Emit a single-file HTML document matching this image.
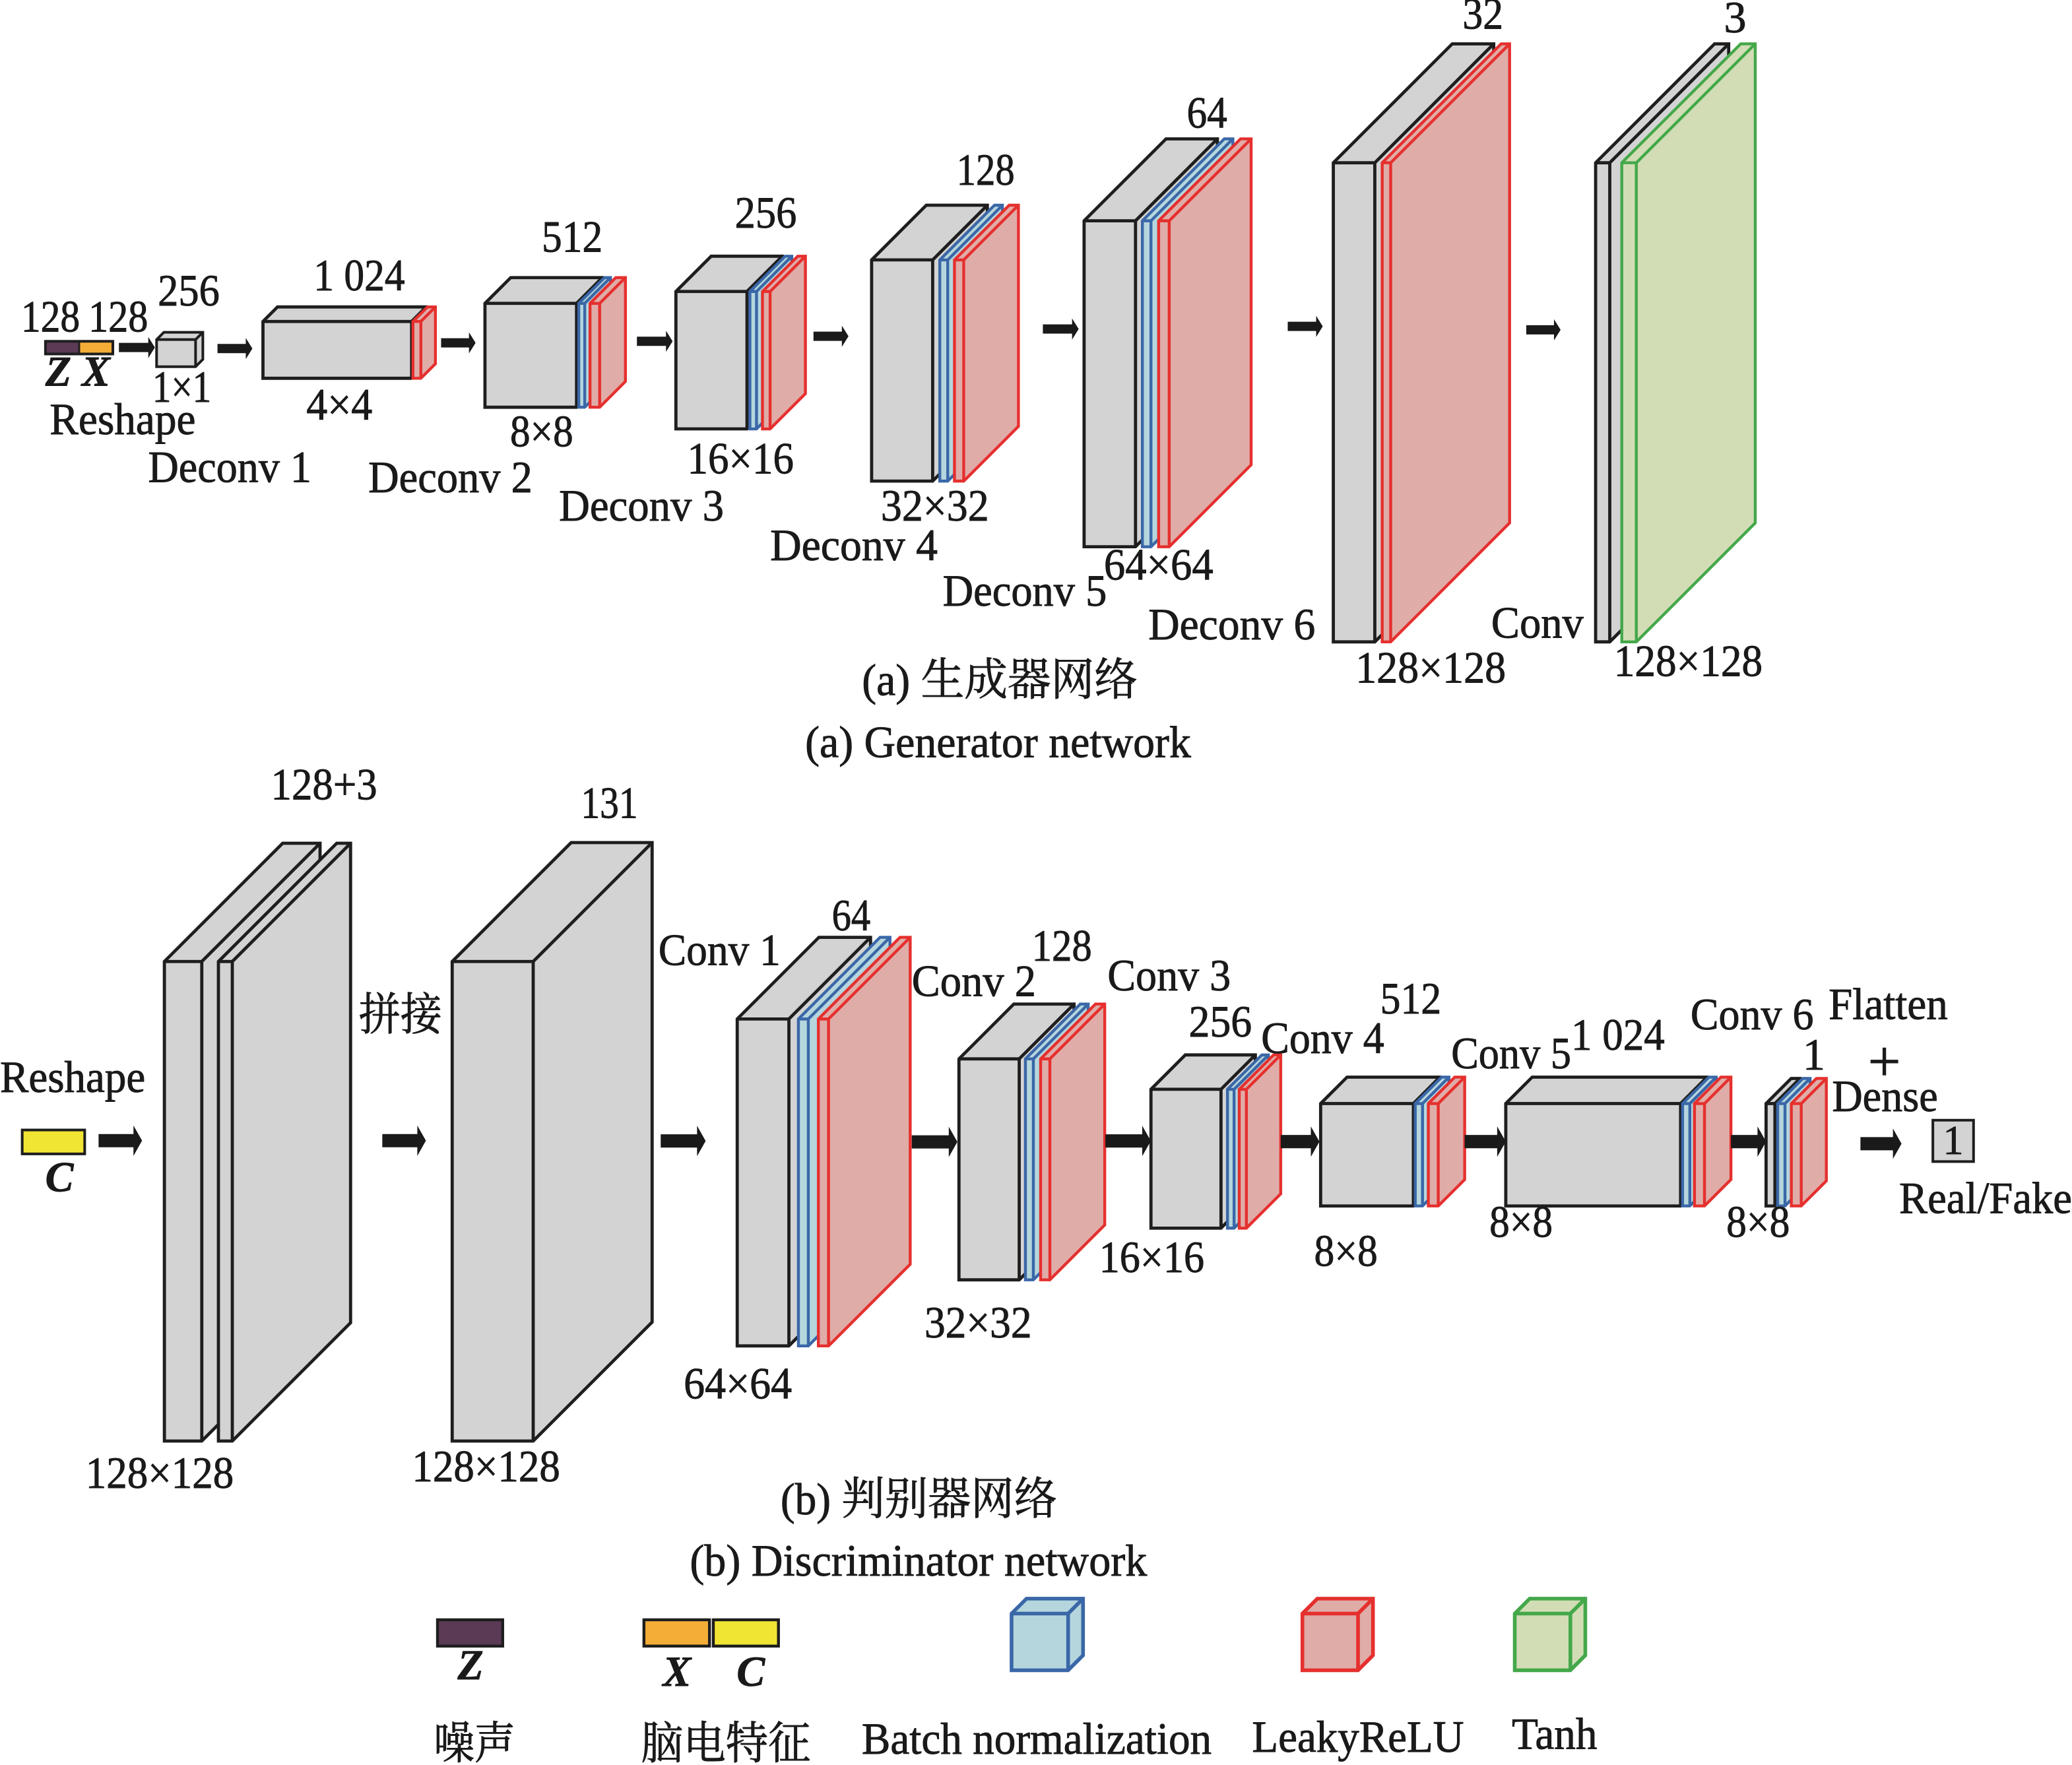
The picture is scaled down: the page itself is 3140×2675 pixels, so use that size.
<!DOCTYPE html>
<html>
<head>
<meta charset="utf-8">
<style>
html,body{margin:0;padding:0;background:#fff;}
svg{display:block;}
g.k{fill:#d3d3d3;stroke:#1e1e1e;stroke-width:2.4;}
g.b{fill:#b5d6dd;stroke:#3a67a7;stroke-width:2.2;}
g.r{fill:#e0aca8;stroke:#e5302e;stroke-width:2.2;}
g.g{fill:#d2ddb5;stroke:#44a84a;stroke-width:2.2;}
g.lg{stroke-width:2.8;}
.e{fill:none;}
.arr path{fill:#1a1a1a;stroke:none;}
text{font-family:"Liberation Serif","Noto Serif CJK SC",serif;font-size:34px;fill:#1a1a1a;stroke:#1a1a1a;stroke-width:0.45;}
.bi{font-weight:bold;font-style:italic;font-size:32px;}
</style>
</head>
<body>
<svg width="3140" height="2675" viewBox="0 0 1568 1335.8" preserveAspectRatio="none" xmlns="http://www.w3.org/2000/svg">
<rect x="0" y="0" width="1568" height="1335.8" fill="#fff"/>

<!-- ================= GENERATOR ================= -->
<rect x="34.4" y="258.3" width="25.5" height="9.6" fill="#5b3a55"/>
<rect x="59.9" y="258.3" width="25.5" height="9.6" fill="#f4ad37"/>
<rect x="34.4" y="258.3" width="51" height="9.6" fill="none" stroke="#1e1e1e" stroke-width="2"/>
<line x1="59.9" y1="258.3" x2="59.9" y2="267.9" stroke="#1e1e1e" stroke-width="1.5"/>

<g class="k" style="stroke-width:2"><polygon points="118.5,277.5 118.5,257 124,251.5 153.5,251.5 153.5,272 148,277.5"/><path class="e" d="M118.5,257 H148 V277.5 M148,257 L153.5,251.5"/></g>

<g class="k"><polygon points="199,286.3 199,243.3 210,232.3 322.5,232.3 322.5,275.3 311.5,286.3"/><path class="e" d="M199,243.3 H311.5 V286.3 M311.5,243.3 L322.5,232.3"/></g>
<g class="r"><polygon points="312.5,286.3 312.5,243.3 323.5,232.3 329.5,232.3 329.5,275.3 318.5,286.3"/><path class="e" d="M312.5,243.3 H318.5 V286.3 M318.5,243.3 L329.5,232.3"/></g>

<g class="k"><polygon points="367,308.2 367,229.6 386.5,210.1 455.8,210.1 455.8,288.7 436.3,308.2"/><path class="e" d="M367,229.6 H436.3 V308.2 M436.3,229.6 L455.8,210.1"/></g>
<g class="b"><polygon points="438,308.2 438,229.6 457.5,210.1 462,210.1 462,288.7 442.5,308.2"/><path class="e" d="M438,229.6 H442.5 V308.2 M442.5,229.6 L462,210.1"/></g>
<g class="r"><polygon points="446.5,308.2 446.5,229.6 466,210.1 473.3,210.1 473.3,288.7 453.8,308.2"/><path class="e" d="M446.5,229.6 H453.8 V308.2 M453.8,229.6 L473.3,210.1"/></g>

<g class="k"><polygon points="511.5,324.6 511.5,220.6 538.2,193.9 592,193.9 592,297.9 565.3,324.6"/><path class="e" d="M511.5,220.6 H565.3 V324.6 M565.3,220.6 L592,193.9"/></g>
<g class="b"><polygon points="567.5,324.6 567.5,220.6 594.2,193.9 599.2,193.9 599.2,297.9 572.5,324.6"/><path class="e" d="M567.5,220.6 H572.5 V324.6 M572.5,220.6 L599.2,193.9"/></g>
<g class="r"><polygon points="577,324.6 577,220.6 603.7,193.9 609.5,193.9 609.5,297.9 582.8,324.6"/><path class="e" d="M577,220.6 H582.8 V324.6 M582.8,220.6 L609.5,193.9"/></g>

<g class="k"><polygon points="659.6,364.1 659.6,196.7 701,155.3 747.2,155.3 747.2,322.7 705.8,364.1"/><path class="e" d="M659.6,196.7 H705.8 V364.1 M705.8,196.7 L747.2,155.3"/></g>
<g class="b"><polygon points="711.2,364.1 711.2,196.7 752.6,155.3 758.6,155.3 758.6,322.7 717.2,364.1"/><path class="e" d="M711.2,196.7 H717.2 V364.1 M717.2,196.7 L758.6,155.3"/></g>
<g class="r"><polygon points="722.3,364.1 722.3,196.7 763.7,155.3 770.7,155.3 770.7,322.7 729.3,364.1"/><path class="e" d="M722.3,196.7 H729.3 V364.1 M729.3,196.7 L770.7,155.3"/></g>

<g class="k"><polygon points="820.4,413.8 820.4,167.1 882.4,105.1 921.3,105.1 921.3,351.8 859.3,413.8"/><path class="e" d="M820.4,167.1 H859.3 V413.8 M859.3,167.1 L921.3,105.1"/></g>
<g class="b"><polygon points="864.5,413.8 864.5,167.1 926.5,105.1 933,105.1 933,351.8 871,413.8"/><path class="e" d="M864.5,167.1 H871 V413.8 M871,167.1 L933,105.1"/></g>
<g class="r"><polygon points="876.8,413.8 876.8,167.1 938.8,105.1 946.8,105.1 946.8,351.8 884.8,413.8"/><path class="e" d="M876.8,167.1 H884.8 V413.8 M884.8,167.1 L946.8,105.1"/></g>

<g class="k"><polygon points="1009,485.8 1009,123.2 1099,33.2 1130.4,33.2 1130.4,395.8 1040.4,485.8"/><path class="e" d="M1009,123.2 H1040.4 V485.8 M1040.4,123.2 L1130.4,33.2"/></g>
<g class="r"><polygon points="1046,485.8 1046,123.2 1136,33.2 1142.4,33.2 1142.4,395.8 1052.4,485.8"/><path class="e" d="M1046,123.2 H1052.4 V485.8 M1052.4,123.2 L1142.4,33.2"/></g>

<g class="k"><polygon points="1207.5,485.8 1207.5,123.2 1297.5,33.2 1308.2,33.2 1308.2,395.8 1218.2,485.8"/><path class="e" d="M1207.5,123.2 H1218.2 V485.8 M1218.2,123.2 L1308.2,33.2"/></g>
<g class="g"><polygon points="1227.3,485.8 1227.3,123.2 1317.3,33.2 1328.3,33.2 1328.3,395.8 1238.3,485.8"/><path class="e" d="M1227.3,123.2 H1238.3 V485.8 M1238.3,123.2 L1328.3,33.2"/></g>

<g class="arr">
<path d="M90,259.5 H112.2 V255 L117.2,263 L112.2,271 V266.5 H90Z"/>
<path d="M164.6,260.3 H186 V255.8 L191,263.8 L186,271.8 V267.3 H164.6Z"/>
<path d="M333.8,256 H354.9 V251.5 L359.9,259.5 L354.9,267.5 V263 H333.8Z"/>
<path d="M482,254.8 H504 V250.3 L509,258.3 L504,266.3 V261.8 H482Z"/>
<path d="M615.6,251 H637.1 V246.5 L642.1,254.5 L637.1,262.5 V258 H615.6Z"/>
<path d="M789.2,245.5 H811.3 V241 L816.3,249 L811.3,257 V252.5 H789.2Z"/>
<path d="M974.5,243.5 H996 V239 L1001,247 L996,255 V250.5 H974.5Z"/>
<path d="M1155,246.1 H1176 V241.6 L1181,249.6 L1176,257.6 V253.1 H1155Z"/>
</g>

<text x="15.9" y="251" textLength="44.6" lengthAdjust="spacingAndGlyphs">128</text>
<text x="66.9" y="251" textLength="45.2" lengthAdjust="spacingAndGlyphs">128</text>
<text x="119.4" y="231.3" textLength="46.8" lengthAdjust="spacingAndGlyphs">256</text>
<text x="237.3" y="219.7" textLength="69.1" lengthAdjust="spacingAndGlyphs">1 024</text>
<text class="bi" x="34.4" y="292">Z</text>
<text class="bi" x="62" y="292">X</text>
<text x="115.3" y="304.2" textLength="44.6" lengthAdjust="spacingAndGlyphs">1×1</text>
<text x="231.8" y="317.5" textLength="50" lengthAdjust="spacingAndGlyphs">4×4</text>
<text x="37.6" y="328.7" textLength="110.5" lengthAdjust="spacingAndGlyphs">Reshape</text>
<text x="112.1" y="364.8" textLength="123.6" lengthAdjust="spacingAndGlyphs">Deconv 1</text>
<text x="410" y="190.5" textLength="46" lengthAdjust="spacingAndGlyphs">512</text>
<text x="386" y="337.8" textLength="47.8" lengthAdjust="spacingAndGlyphs">8×8</text>
<text x="278.7" y="372.5" textLength="124.2" lengthAdjust="spacingAndGlyphs">Deconv 2</text>
<text x="556.1" y="172.2" textLength="46.8" lengthAdjust="spacingAndGlyphs">256</text>
<text x="520.1" y="358.2" textLength="80.6" lengthAdjust="spacingAndGlyphs">16×16</text>
<text x="423" y="393.9" textLength="124.8" lengthAdjust="spacingAndGlyphs">Deconv 3</text>
<text x="723.9" y="139.9" textLength="44" lengthAdjust="spacingAndGlyphs">128</text>
<text x="666.6" y="393.9" textLength="81.8" lengthAdjust="spacingAndGlyphs">32×32</text>
<text x="582.8" y="423.9" textLength="126.8" lengthAdjust="spacingAndGlyphs">Deconv 4</text>
<text x="898.1" y="96.6" textLength="30.6" lengthAdjust="spacingAndGlyphs">64</text>
<text x="835.4" y="438.7" textLength="82.8" lengthAdjust="spacingAndGlyphs">64×64</text>
<text x="713.4" y="458.3" textLength="124.2" lengthAdjust="spacingAndGlyphs">Deconv 5</text>
<text x="869" y="484" textLength="126.4" lengthAdjust="spacingAndGlyphs">Deconv 6</text>
<text x="1106.8" y="21.7" textLength="30.8" lengthAdjust="spacingAndGlyphs">32</text>
<text x="1025.8" y="516.6" textLength="113.8" lengthAdjust="spacingAndGlyphs">128×128</text>
<text x="1128.5" y="482.6" textLength="69.9" lengthAdjust="spacingAndGlyphs">Conv</text>
<text x="1313.1" y="24.5" text-anchor="middle">3</text>
<text x="1221.3" y="511.5" textLength="112.6" lengthAdjust="spacingAndGlyphs">128×128</text>
<text x="652.3" y="526" textLength="208.6" lengthAdjust="spacingAndGlyphs">(a) 生成器网络</text>
<text x="609.3" y="573" textLength="292" lengthAdjust="spacingAndGlyphs">(a) Generator network</text>

<!-- ================= DISCRIMINATOR ================= -->
<rect x="16.8" y="855.2" width="47.3" height="18.1" fill="#f1e534" stroke="#1e1e1e" stroke-width="2"/>
<text class="bi" x="34.3" y="901.5">C</text>

<g class="k"><polygon points="124.4,1090.6 124.4,727.7 213.9,638.2 242.2,638.2 242.2,1001.1 152.7,1090.6"/><path class="e" d="M124.4,727.7 H152.7 V1090.6 M152.7,727.7 L242.2,638.2"/></g>
<g class="k"><polygon points="165.3,1090.6 165.3,727.7 254.8,638.2 265.3,638.2 265.3,1001.1 175.8,1090.6"/><path class="e" d="M165.3,727.7 H175.8 V1090.6 M175.8,727.7 L265.3,638.2"/></g>
<g class="k"><polygon points="342.2,1090.6 342.2,727.7 432.2,637.7 493.5,637.7 493.5,1000.6 403.5,1090.6"/><path class="e" d="M342.2,727.7 H403.5 V1090.6 M403.5,727.7 L493.5,637.7"/></g>

<g class="k"><polygon points="557.9,1018.6 557.9,771.2 619.7,709.4 658.8,709.4 658.8,956.8 597,1018.6"/><path class="e" d="M557.9,771.2 H597 V1018.6 M597,771.2 L658.8,709.4"/></g>
<g class="b"><polygon points="604.2,1018.6 604.2,771.2 666,709.4 673.5,709.4 673.5,956.8 611.7,1018.6"/><path class="e" d="M604.2,771.2 H611.7 V1018.6 M611.7,771.2 L673.5,709.4"/></g>
<g class="r"><polygon points="619.3,1018.6 619.3,771.2 681.1,709.4 688.8,709.4 688.8,956.8 627,1018.6"/><path class="e" d="M619.3,771.2 H627 V1018.6 M627,771.2 L688.8,709.4"/></g>

<g class="k"><polygon points="725.7,968.6 725.7,801.4 767.2,759.9 812.8,759.9 812.8,927.1 771.3,968.6"/><path class="e" d="M725.7,801.4 H771.3 V968.6 M771.3,801.4 L812.8,759.9"/></g>
<g class="b"><polygon points="776,968.6 776,801.4 817.5,759.9 823.5,759.9 823.5,927.1 782,968.6"/><path class="e" d="M776,801.4 H782 V968.6 M782,801.4 L823.5,759.9"/></g>
<g class="r"><polygon points="787.5,968.6 787.5,801.4 829,759.9 836,759.9 836,927.1 794.5,968.6"/><path class="e" d="M787.5,801.4 H794.5 V968.6 M794.5,801.4 L836,759.9"/></g>

<g class="k"><polygon points="871,929.5 871,824.4 897,798.4 950,798.4 950,903.5 924,929.5"/><path class="e" d="M871,824.4 H924 V929.5 M924,824.4 L950,798.4"/></g>
<g class="b"><polygon points="928.9,929.5 928.9,824.4 954.9,798.4 959.9,798.4 959.9,903.5 933.9,929.5"/><path class="e" d="M928.9,824.4 H933.9 V929.5 M933.9,824.4 L959.9,798.4"/></g>
<g class="r"><polygon points="937.8,929.5 937.8,824.4 963.8,798.4 969.2,798.4 969.2,903.5 943.2,929.5"/><path class="e" d="M937.8,824.4 H943.2 V929.5 M943.2,824.4 L969.2,798.4"/></g>

<g class="k"><polygon points="999.4,912.7 999.4,835.2 1019.4,815.2 1089.6,815.2 1089.6,892.7 1069.6,912.7"/><path class="e" d="M999.4,835.2 H1069.6 V912.7 M1069.6,835.2 L1089.6,815.2"/></g>
<g class="b"><polygon points="1071,912.7 1071,835.2 1091,815.2 1096.5,815.2 1096.5,892.7 1076.5,912.7"/><path class="e" d="M1071,835.2 H1076.5 V912.7 M1076.5,835.2 L1096.5,815.2"/></g>
<g class="r"><polygon points="1080.9,912.7 1080.9,835.2 1100.9,815.2 1108.4,815.2 1108.4,892.7 1088.4,912.7"/><path class="e" d="M1080.9,835.2 H1088.4 V912.7 M1088.4,835.2 L1108.4,815.2"/></g>

<g class="k"><polygon points="1139.5,912.7 1139.5,835.2 1159.5,815.2 1291.8,815.2 1291.8,892.7 1271.8,912.7"/><path class="e" d="M1139.5,835.2 H1271.8 V912.7 M1271.8,835.2 L1291.8,815.2"/></g>
<g class="b"><polygon points="1273.3,912.7 1273.3,835.2 1293.3,815.2 1298.8,815.2 1298.8,892.7 1278.8,912.7"/><path class="e" d="M1273.3,835.2 H1278.8 V912.7 M1278.8,835.2 L1298.8,815.2"/></g>
<g class="r"><polygon points="1282.3,912.7 1282.3,835.2 1302.3,815.2 1309.9,815.2 1309.9,892.7 1289.9,912.7"/><path class="e" d="M1282.3,835.2 H1289.9 V912.7 M1289.9,835.2 L1309.9,815.2"/></g>

<g class="k"><polygon points="1336.5,912.7 1336.5,835.2 1355.5,816.2 1362.2,816.2 1362.2,893.7 1343.2,912.7"/><path class="e" d="M1336.5,835.2 H1343.2 V912.7 M1343.2,835.2 L1362.2,816.2"/></g>
<g class="b"><polygon points="1345.3,912.7 1345.3,835.2 1364.3,816.2 1369.8,816.2 1369.8,893.7 1350.8,912.7"/><path class="e" d="M1345.3,835.2 H1350.8 V912.7 M1350.8,835.2 L1369.8,816.2"/></g>
<g class="r"><polygon points="1355.6,912.7 1355.6,835.2 1374.6,816.2 1382.1,816.2 1382.1,893.7 1363.1,912.7"/><path class="e" d="M1355.6,835.2 H1363.1 V912.7 M1363.1,835.2 L1382.1,816.2"/></g>

<rect x="1462.7" y="847.8" width="30.8" height="31.3" fill="#d3d3d3" stroke="#1e1e1e" stroke-width="2"/>
<text x="1478.1" y="873.5" text-anchor="middle" style="font-size:31px">1</text>

<g class="arr">
<path d="M74.6,858.3 H101 V851.8 L107.5,863.3 L101,874.8 V868.3 H74.6Z"/>
<path d="M289.3,858.3 H315.8 V851.8 L322.3,863.3 L315.8,874.8 V868.3 H289.3Z"/>
<path d="M500,858.5 H527.5 V852 L534,863.5 L527.5,875 V868.5 H500Z"/>
<path d="M690,859.2 H718 V852.7 L724.5,864.2 L718,875.7 V869.2 H690Z"/>
<path d="M836.5,858.5 H864.4 V852 L870.9,863.5 L864.4,875 V868.5 H836.5Z"/>
<path d="M969.2,859 H992 V852.5 L998.5,864 L992,875.5 V869 H969.2Z"/>
<path d="M1108.4,859 H1133 V852.5 L1139.5,864 L1133,875.5 V869 H1108.4Z"/>
<path d="M1309.9,859 H1330 V852.5 L1336.5,864 L1330,875.5 V869 H1309.9Z"/>
<path d="M1407.9,860.6 H1432.5 V854.1 L1439,865.6 L1432.5,877.1 V870.6 H1407.9Z"/>
</g>

<text x="205" y="605" textLength="80.5" lengthAdjust="spacingAndGlyphs">128+3</text>
<text x="439.6" y="619" textLength="43.1" lengthAdjust="spacingAndGlyphs">131</text>
<text x="0" y="826.5" textLength="110" lengthAdjust="spacingAndGlyphs">Reshape</text>
<text x="271.5" y="779.5" textLength="63" lengthAdjust="spacingAndGlyphs">拼接</text>
<text x="64.8" y="1126" textLength="112.1" lengthAdjust="spacingAndGlyphs">128×128</text>
<text x="311.8" y="1121" textLength="112.1" lengthAdjust="spacingAndGlyphs">128×128</text>
<text x="498.3" y="730.4" textLength="92.4" lengthAdjust="spacingAndGlyphs">Conv 1</text>
<text x="629.5" y="704" textLength="29.3" lengthAdjust="spacingAndGlyphs">64</text>
<text x="517.4" y="1058.4" textLength="81.9" lengthAdjust="spacingAndGlyphs">64×64</text>
<text x="690" y="753.7" textLength="94" lengthAdjust="spacingAndGlyphs">Conv 2</text>
<text x="780.8" y="727.2" textLength="45.5" lengthAdjust="spacingAndGlyphs">128</text>
<text x="699.6" y="1012.3" textLength="81.2" lengthAdjust="spacingAndGlyphs">32×32</text>
<text x="838.1" y="749.5" textLength="93.3" lengthAdjust="spacingAndGlyphs">Conv 3</text>
<text x="899.6" y="784.5" textLength="47.8" lengthAdjust="spacingAndGlyphs">256</text>
<text x="831.8" y="962.9" textLength="79.6" lengthAdjust="spacingAndGlyphs">16×16</text>
<text x="954.4" y="797" textLength="93.1" lengthAdjust="spacingAndGlyphs">Conv 4</text>
<text x="1044.5" y="767" textLength="46.2" lengthAdjust="spacingAndGlyphs">512</text>
<text x="994.5" y="958" textLength="48.1" lengthAdjust="spacingAndGlyphs">8×8</text>
<text x="1098.2" y="808.4" textLength="90.8" lengthAdjust="spacingAndGlyphs">Conv 5</text>
<text x="1189" y="794.6" textLength="70.8" lengthAdjust="spacingAndGlyphs">1 024</text>
<text x="1127.1" y="936" textLength="47.9" lengthAdjust="spacingAndGlyphs">8×8</text>
<text x="1279.3" y="779" textLength="93.2" lengthAdjust="spacingAndGlyphs">Conv 6</text>
<text x="1372.7" y="809.5" text-anchor="middle">1</text>
<text x="1306.4" y="936" textLength="48.1" lengthAdjust="spacingAndGlyphs">8×8</text>
<text x="1383.8" y="771.3" textLength="90.2" lengthAdjust="spacingAndGlyphs">Flatten</text>
<text x="1426" y="818" text-anchor="middle" style="font-size:44px">+</text>
<text x="1386.4" y="840.9" textLength="80.1" lengthAdjust="spacingAndGlyphs">Dense</text>
<text x="1437.2" y="918" textLength="130.8" lengthAdjust="spacingAndGlyphs">Real/Fake</text>
<text x="590.7" y="1146" textLength="209.3" lengthAdjust="spacingAndGlyphs">(b) 判别器网络</text>
<text x="522" y="1192.5" textLength="346" lengthAdjust="spacingAndGlyphs">(b) Discriminator network</text>

<!-- ================= LEGEND ================= -->
<rect x="331.1" y="1225.9" width="49.3" height="19.9" fill="#5b3a55" stroke="#1e1e1e" stroke-width="2.2"/>
<text class="bi" x="346.3" y="1270.8">Z</text>
<rect x="487.3" y="1225.9" width="49.6" height="19.9" fill="#f4ad37" stroke="#1e1e1e" stroke-width="2.2"/>
<rect x="539.8" y="1225.9" width="49.3" height="19.9" fill="#f1e534" stroke="#1e1e1e" stroke-width="2.2"/>
<text class="bi" x="501.6" y="1275.8">X</text>
<text class="bi" x="557.5" y="1275.8">C</text>

<g class="b lg"><polygon points="765.5,1264.1 765.5,1221.2 776.8,1209.9 819.6,1209.9 819.6,1252.8 808.3,1264.1"/><path class="e" d="M765.5,1221.2 H808.3 V1264.1 M808.3,1221.2 L819.6,1209.9"/></g>
<g class="r lg"><polygon points="985.6,1264.1 985.6,1221.2 996.9,1209.9 1039,1209.9 1039,1252.8 1027.7,1264.1"/><path class="e" d="M985.6,1221.2 H1027.7 V1264.1 M1027.7,1221.2 L1039,1209.9"/></g>
<g class="g lg"><polygon points="1146.3,1264.1 1146.3,1221.2 1157.6,1209.9 1199.7,1209.9 1199.7,1252.8 1188.4,1264.1"/><path class="e" d="M1146.3,1221.2 H1188.4 V1264.1 M1188.4,1221.2 L1199.7,1209.9"/></g>

<text x="328.2" y="1331" textLength="61.7" lengthAdjust="spacingAndGlyphs">噪声</text>
<text x="485" y="1331" textLength="128.4" lengthAdjust="spacingAndGlyphs">脑电特征</text>
<text x="652.1" y="1327.4" textLength="264.8" lengthAdjust="spacingAndGlyphs">Batch normalization</text>
<text x="947.5" y="1325.7" textLength="160.4" lengthAdjust="spacingAndGlyphs">LeakyReLU</text>
<text x="1144.1" y="1323.6" textLength="64.6" lengthAdjust="spacingAndGlyphs">Tanh</text>
</svg>
</body>
</html>
